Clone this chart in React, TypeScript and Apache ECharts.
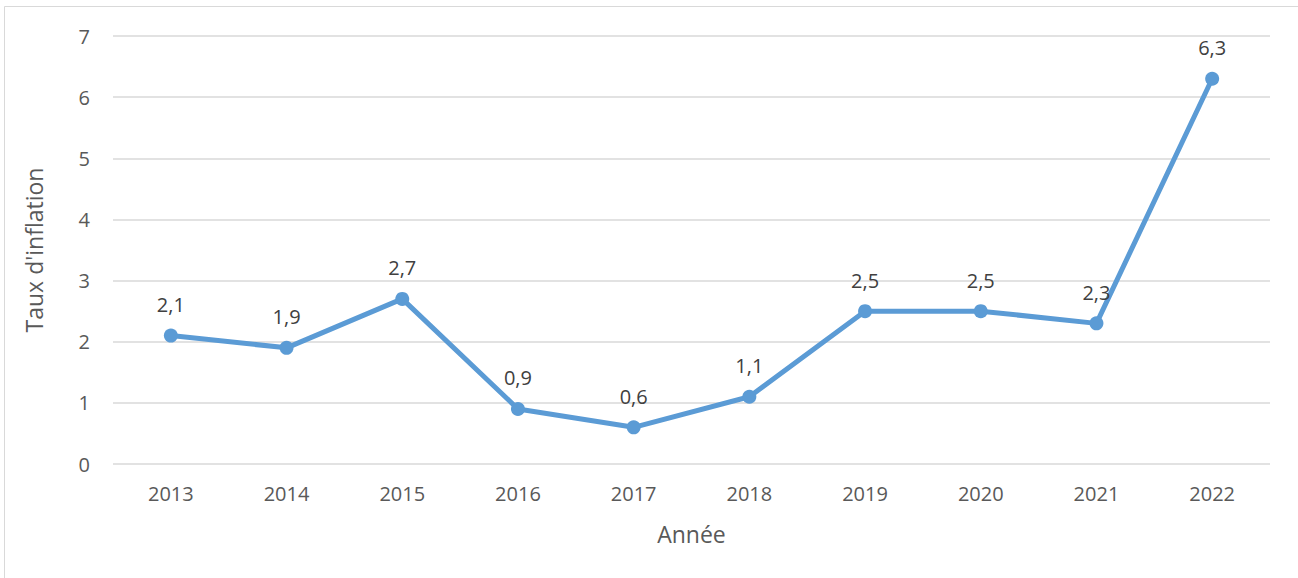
import React, { useEffect, useRef } from "react";
import * as echarts from "echarts";

const years = ["2013", "2014", "2015", "2016", "2017", "2018", "2019", "2020", "2021", "2022"];
const inflation = [2.1, 1.9, 2.7, 0.9, 0.6, 1.1, 2.5, 2.5, 2.3, 6.3];
const xTitle = "Année";
const yTitle = "Taux d'inflation";

const FONT = "'Open Sans', 'Noto Sans', sans-serif";
const TEXT = "#595959";

export default function App() {
  const ref = useRef<HTMLDivElement>(null);
  useEffect(() => {
    if (!ref.current) return;
    const chart = echarts.init(ref.current, null, { renderer: "svg" });
    chart.setOption({
      animation: false,
      backgroundColor: "#ffffff",
      textStyle: { fontFamily: FONT },
      graphic: [
        {
          type: "rect",
          shape: { x: 4.5, y: 6.5, width: 1400, height: 600 },
          style: { fill: "none", stroke: "#d9d9d9", lineWidth: 1 },
          silent: true,
        },
      ],
      grid: { left: 113, right: 28, top: 36, bottom: 114, containLabel: false },
      xAxis: {
        type: "category",
        data: years,
        boundaryGap: true,
        axisLine: { show: false },
        axisTick: { show: false },
        axisLabel: { color: TEXT, fontSize: 20, margin: 19, fontFamily: FONT },
        name: xTitle,
        nameLocation: "middle",
        nameGap: 58,
        nameTextStyle: { color: TEXT, fontSize: 23, fontFamily: FONT },
      },
      yAxis: {
        type: "value",
        min: 0,
        max: 7,
        interval: 1,
        axisLine: { show: false },
        axisTick: { show: false },
        axisLabel: { color: TEXT, fontSize: 20, margin: 23, fontFamily: FONT },
        splitLine: { lineStyle: { color: "#d9d9d9", width: 1.5 } },
        name: yTitle,
        nameLocation: "middle",
        nameGap: 68,
        nameRotate: 90,
        nameTextStyle: { color: TEXT, fontSize: 23, fontFamily: FONT },
      },
      series: [
        {
          type: "line",
          data: inflation,
          symbol: "circle",
          symbolSize: 14,
          lineStyle: { color: "#5b9bd5", width: 5 },
          itemStyle: { color: "#5b9bd5" },
          label: {
            show: true,
            position: "top",
            distance: 14,
            color: "#404040",
            fontSize: 20,
            fontFamily: FONT,
            formatter: (p: any) => String(p.value).replace(".", ","),
          },
        },
      ],
    });
    return () => chart.dispose();
  }, []);
  return (
    <div
      ref={ref}
      style={{ position: "absolute", left: 0, top: 0, width: 1298, height: 578 }}
    />
  );
}
